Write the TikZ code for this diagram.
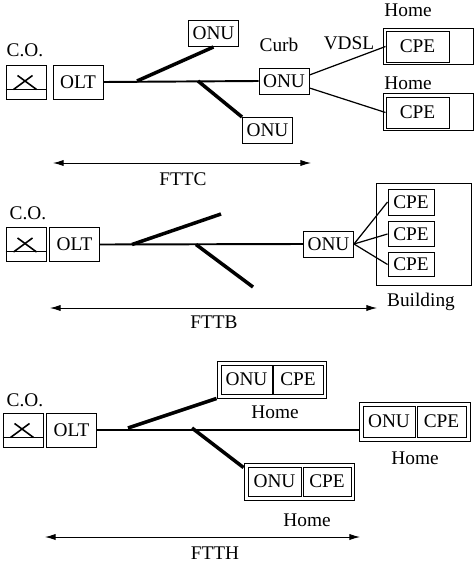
\documentclass[tikz,border=0pt]{standalone}
\usepackage{fontspec}
\setmainfont{Liberation Serif}
\usetikzlibrary{positioning, fit, arrows.meta, calc}

\begin{document}
\begin{tikzpicture}[
    x=0.02cm, y=-0.02cm,
    every node/.style={font=\fontsize{11}{13}\selectfont},
    unitbox/.style={rectangle, draw, line width=0.55pt, inner sep=0pt},
    swbox/.style={unitbox, minimum width=0.8cm, minimum height=0.68cm},
    oltbox/.style={unitbox, minimum width=1.0cm, minimum height=0.68cm},
    onubox/.style={unitbox, minimum width=1.0cm, minimum height=0.52cm},
    cpebox/.style={unitbox, minimum width=0.92cm, minimum height=0.5cm},
    homebox/.style={unitbox, inner sep=0.07cm},
    fiber/.style={line width=1.1pt},
    branch/.style={line width=2pt},
    copper/.style={line width=0.7pt},
    span/.style={{Latex[length=6pt, width=3.5pt]}-{Latex[length=6pt, width=3.5pt]}, line width=0.5pt},
    lbl/.style={inner sep=0pt},
]
\useasboundingbox (0,0) rectangle (474,561);

% FTTC
\node[lbl] (co1) at (25,50) {C.O.};
\node[swbox] (sw1) at (26,82) {};
\node[oltbox] (olt1) at (78,82) {OLT};
\node[onubox] (onu1a) at (213.5,33.5) {ONU};
\node[onubox] (onu1b) at (267.5,130.5) {ONU};
\node[onubox] (curb) at (284,81) {ONU};
\node[lbl] (curbl) at (279,45) {Curb};
\node[lbl] (vdsl) at (349,43) {VDSL};

\node[unitbox, minimum width=1.8cm, minimum height=0.72cm] (home1a) at (428,46) {};
\node[unitbox, minimum width=1.26cm, minimum height=0.62cm] (cpe1a) at (417.5,46.5) {CPE};
\node[lbl] (homel1a) at (408,10) {Home};
\node[unitbox, minimum width=1.8cm, minimum height=0.74cm] (home1b) at (428,111.5) {};
\node[unitbox, minimum width=1.26cm, minimum height=0.62cm] (cpe1b) at (417.5,112.5) {CPE};
\node[lbl] (homel1b) at (408,83) {Home};

\coordinate (b1a) at (137,81);
\coordinate (b1b) at (198,81);
\draw[fiber] (olt1.east) -- (curb.west);
\draw[branch] (b1a) -- (onu1a.south);
\draw[branch] (b1b) -- (onu1b.north west);
\draw[copper] (curb.east) ++(0,-6) -- (cpe1a.west);
\draw[copper] (curb.east) ++(0,7) -- (cpe1b.west);

\coordinate (a1l) at (53,163);
\coordinate (a1r) at (311,163);
\draw[span] (a1l) -- (a1r);
\node[lbl] (fttc) at (183,179) {FTTC};

% FTTB
\node[lbl] (co2) at (28,213) {C.O.};
\node[swbox] (sw2) at (26,244.5) {};
\node[oltbox] (olt2) at (74.5,244.5) {OLT};
\node[onubox] (onu2) at (328.5,244) {ONU};

\node[unitbox, minimum width=1.9cm, minimum height=2.04cm] (bldg) at (423.5,234) {};
\node[unitbox, minimum width=0.92cm, minimum height=0.52cm] (cpe2a) at (411,202) {CPE};
\node[unitbox, minimum width=0.92cm, minimum height=0.5cm] (cpe2b) at (411,234) {CPE};
\node[unitbox, minimum width=0.92cm, minimum height=0.48cm] (cpe2c) at (411,264.5) {CPE};
\node[lbl] (bldgl) at (421,302) {Building};

\coordinate (b2a) at (132,244.5);
\coordinate (b2b) at (196,244.5);
\coordinate (e2a) at (221,214);
\coordinate (e2b) at (253,287);
\draw[fiber] (olt2.east) -- (onu2.west);
\draw[branch] (b2a) -- (e2a);
\draw[branch] (b2b) -- (e2b);
\draw[copper] (onu2.east) -- (cpe2a.west);
\draw[copper] (onu2.east) -- (cpe2b.west);
\draw[copper] (onu2.east) -- (cpe2c.west);

\coordinate (a2l) at (50,308);
\coordinate (a2r) at (377,308);
\draw[span] (a2l) -- (a2r);
\node[lbl] (fttb) at (214,322) {FTTB};

% FTTH
\node[lbl] (co3) at (25,400) {C.O.};
\node[swbox] (sw3) at (23,430) {};
\node[oltbox] (olt3) at (71.5,430) {OLT};

\node[unitbox, minimum width=1.02cm, minimum height=0.58cm] (onu3a) at (246.5,379.5) {ONU};
\node[unitbox, minimum width=1.0cm, minimum height=0.58cm] (cpe3a) at (298,379.5) {CPE};
\node[homebox, fit=(onu3a)(cpe3a)] (h1) {};
\node[lbl] (homel3a) at (275,412) {Home};

\node[unitbox, minimum width=1.04cm, minimum height=0.62cm] (onu3b) at (389,421.5) {ONU};
\node[unitbox, minimum width=0.98cm, minimum height=0.62cm] (cpe3b) at (441.5,421.5) {CPE};
\node[homebox, fit=(onu3b)(cpe3b)] (h2) {};
\node[lbl] (homel3b) at (415,458) {Home};

\node[unitbox, minimum width=1.06cm, minimum height=0.58cm] (onu3c) at (274.5,481.5) {ONU};
\node[unitbox, minimum width=0.96cm, minimum height=0.58cm] (cpe3c) at (327,481.5) {CPE};
\node[homebox, fit=(onu3c)(cpe3c)] (h3) {};
\node[lbl] (homel3c) at (307,520) {Home};

\coordinate (b3a) at (128,428);
\coordinate (b3b) at (192,428);
\draw[fiber] (olt3.east) -- (olt3.east -| h2.west);
\draw[branch] (b3a) -- (h1.south west);
\draw[branch] (b3b) -- ([yshift=-0.1cm]h3.north west);

\coordinate (a3l) at (45,537);
\coordinate (a3r) at (360,537);
\draw[span] (a3l) -- (a3r);
\node[lbl] (ftth) at (215,553) {FTTH};

% switch symbols
\foreach \s in {sw1,sw2,sw3} {
  \draw[line width=0.55pt] ([shift={(0,-10)}]\s.south west) -- ([shift={(0,-10)}]\s.south east);
  \draw[line width=0.9pt] ([shift={(8,-10)}]\s.south west) -- ([shift={(27,-24)}]\s.south west);
  \draw[line width=0.9pt] ([shift={(12,-24)}]\s.south west) -- ([shift={(31,-10)}]\s.south west);
}

\end{tikzpicture}
\end{document}
